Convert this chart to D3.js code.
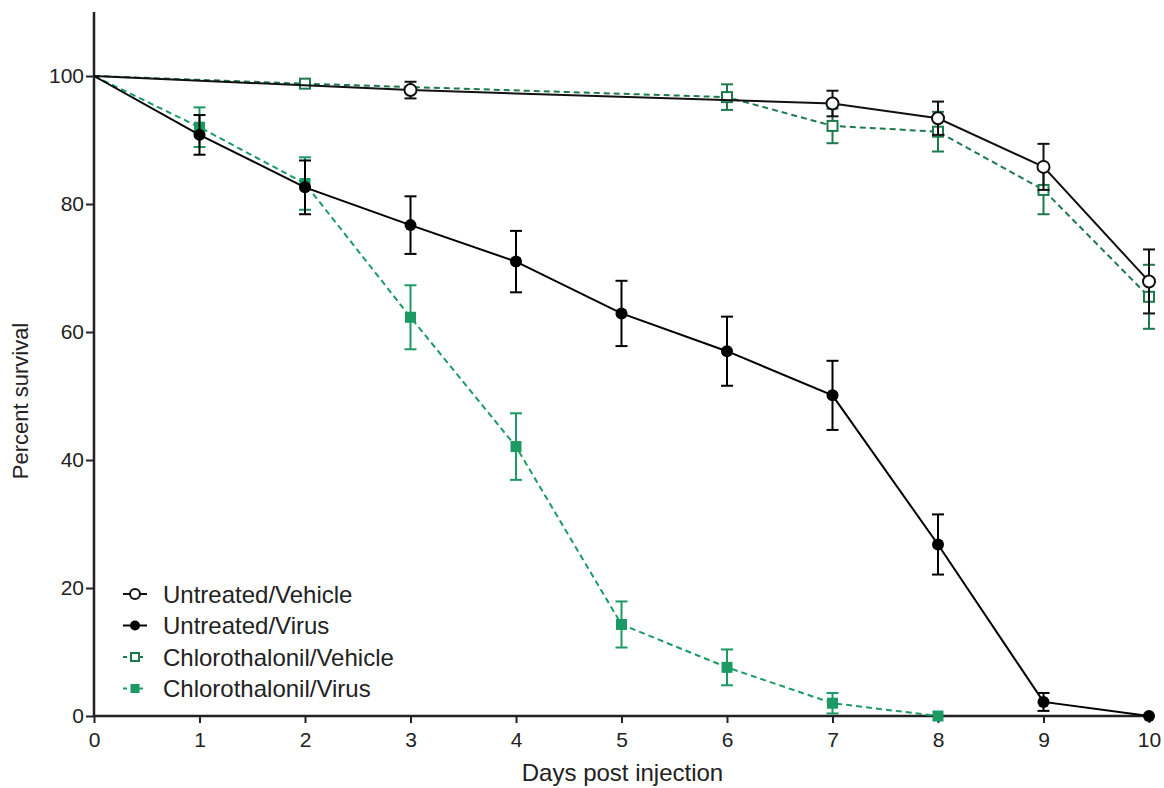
<!DOCTYPE html>
<html>
<head>
<meta charset="utf-8">
<script src="https://cdn.jsdelivr.net/npm/d3@7"></script>
<style>
  body { margin: 0; background: #fff; }
  svg { display: block; font-family: "Liberation Sans", Arial, sans-serif; }
</style>
</head>
<body>
<div id="chart"></div>
<script>
// days post injection and percent survival (mean, sem) per group
const untreatedVehicleDays = [0, 3, 7, 8, 9, 10];
const untreatedVehicleMean = [100, 97.8, 95.7, 93.4, 85.8, 67.9];
const untreatedVehicleSem = [0, 1.3, 2.0, 2.6, 3.6, 5.0];

const untreatedVirusDays = [0, 1, 2, 3, 4, 5, 6, 7, 8, 9, 10];
const untreatedVirusMean = [100, 90.8, 82.6, 76.7, 71.0, 62.9, 57.0, 50.1, 26.8, 2.2, 0];
const untreatedVirusSem = [0, 3.1, 4.2, 4.5, 4.8, 5.1, 5.4, 5.4, 4.7, 1.4, 0];

const chloroVehicleDays = [0, 2, 6, 7, 8, 9, 10];
const chloroVehicleMean = [100, 98.8, 96.7, 92.2, 91.3, 82.2, 65.5];
const chloroVehicleSem = [0, 0.5, 2.0, 2.7, 3.1, 3.8, 5.0];

const chloroVirusDays = [0, 1, 2, 3, 4, 5, 6, 7, 8];
const chloroVirusMean = [100, 92.0, 83.2, 62.3, 42.1, 14.3, 7.6, 2.0, 0];
const chloroVirusSem = [0, 3.1, 4.1, 5.0, 5.2, 3.6, 2.8, 1.6, 0];

const xTicks = [0, 1, 2, 3, 4, 5, 6, 7, 8, 9, 10];
const yTicks = [0, 20, 40, 60, 80, 100];

const groups = [
  { name: "Untreated/Vehicle", days: untreatedVehicleDays, mean: untreatedVehicleMean, sem: untreatedVehicleSem, color: "#111", shape: "circle", filled: false, dashed: false },
  { name: "Untreated/Virus", days: untreatedVirusDays, mean: untreatedVirusMean, sem: untreatedVirusSem, color: "#000", shape: "circle", filled: true, dashed: false },
  { name: "Chlorothalonil/Vehicle", days: chloroVehicleDays, mean: chloroVehicleMean, sem: chloroVehicleSem, color: "#1e7a4c", shape: "square", filled: false, dashed: true },
  { name: "Chlorothalonil/Virus", days: chloroVirusDays, mean: chloroVirusMean, sem: chloroVirusSem, color: "#1b9b63", shape: "square", filled: true, dashed: true }
];

const width = 1164;
const height = 788;
const margin = { top: 12, right: 15, bottom: 72, left: 94 };

const x = d3.scaleLinear().domain([0, 10]).range([margin.left, width - margin.right]);
const y = d3.scaleLinear().domain([0, 110]).range([height - margin.bottom, margin.top]);

const svg = d3.select("#chart").append("svg")
  .attr("width", width)
  .attr("height", height);

// axes
const xAxis = svg.append("g")
  .attr("transform", `translate(0, ${y(0)})`)
  .call(d3.axisBottom(x).tickValues(xTicks).tickSize(7).tickPadding(9).tickFormat(d3.format("d")));
const yAxis = svg.append("g")
  .attr("transform", `translate(${margin.left}, 0)`)
  .call(d3.axisLeft(y).tickValues(yTicks).tickSize(8).tickPadding(2).tickSizeOuter(0));

[xAxis, yAxis].forEach((g) => {
  g.select(".domain").attr("stroke", "#222").attr("stroke-width", 2.5);
  g.selectAll(".tick line").attr("stroke", "#222").attr("stroke-width", 2);
  g.selectAll("text").attr("font-size", 21).attr("fill", "#222").attr("font-family", "Liberation Sans, Arial, sans-serif");
});
xAxis.select(".domain").attr("d", `M${x(0)},0H${x(10)}`);
yAxis.select(".domain").attr("d", `M0,${y(0)}V${margin.top}`);
xAxis.selectAll(".tick line").attr("y1", -1);

svg.append("text")
  .attr("x", (x(0) + x(10)) / 2 + 1)
  .attr("y", 781)
  .attr("text-anchor", "middle")
  .attr("font-size", 24)
  .attr("fill", "#222")
  .text("Days post injection");

svg.append("text")
  .attr("transform", `translate(28, ${y(50) + 5}) rotate(-90)`)
  .attr("text-anchor", "middle")
  .attr("font-size", 22)
  .attr("fill", "#222")
  .text("Percent survival");

const line = d3.line().x((d) => x(d.day)).y((d) => y(d.value));

function drawMarker(sel, g, size) {
  if (g.shape === "circle") {
    sel.append("circle")
      .attr("r", size / 2)
      .attr("fill", g.filled ? g.color : "#fff")
      .attr("stroke", g.color)
      .attr("stroke-width", g.filled ? 0 : 2);
  } else {
    const s = g.filled ? size - 1 : size - 2;
    sel.append("rect")
      .attr("x", -s / 2).attr("y", -s / 2)
      .attr("width", s).attr("height", s)
      .attr("fill", g.filled ? g.color : "#fff")
      .attr("stroke", g.color)
      .attr("stroke-width", g.filled ? 0 : 2);
  }
}

// draw groups in back-to-front order
const drawOrder = [groups[2], groups[3], groups[1], groups[0]];

drawOrder.forEach((g) => {
  const pts = g.days.map((d, i) => ({ day: d, value: g.mean[i], sem: g.sem[i] }));
  const layer = svg.append("g");

  layer.append("path")
    .datum(pts)
    .attr("d", line)
    .attr("fill", "none")
    .attr("stroke", g.color)
    .attr("stroke-width", 2)
    .attr("stroke-dasharray", g.dashed ? "6,4" : null);

  const bars = layer.selectAll(".err")
    .data(pts.filter((p) => p.sem > 0))
    .join("g")
    .attr("class", "err")
    .attr("stroke", g.color)
    .attr("stroke-width", 2);
  bars.append("line")
    .attr("x1", (d) => x(d.day)).attr("x2", (d) => x(d.day))
    .attr("y1", (d) => y(d.value + d.sem)).attr("y2", (d) => y(d.value - d.sem));
  bars.append("line")
    .attr("x1", (d) => x(d.day) - 6).attr("x2", (d) => x(d.day) + 6)
    .attr("y1", (d) => y(d.value + d.sem)).attr("y2", (d) => y(d.value + d.sem));
  bars.append("line")
    .attr("x1", (d) => x(d.day) - 6).attr("x2", (d) => x(d.day) + 6)
    .attr("y1", (d) => y(d.value - d.sem)).attr("y2", (d) => y(d.value - d.sem));

  layer.selectAll(".mark")
    .data(pts.filter((p) => p.day > 0))
    .join("g")
    .attr("class", "mark")
    .attr("transform", (d) => `translate(${x(d.day)}, ${y(d.value)})`)
    .each(function () { drawMarker(d3.select(this), g, 12); });
});

// legend
const legend = svg.append("g").attr("transform", "translate(123, 594)");
groups.forEach((g, i) => {
  const row = legend.append("g").attr("transform", `translate(0, ${i * 31.5})`);
  row.append("line")
    .attr("x1", 0).attr("x2", 24)
    .attr("stroke", g.color).attr("stroke-width", 2)
    .attr("stroke-dasharray", g.dashed ? "4,4" : null);
  const m = row.append("g").attr("transform", "translate(12, 0)");
  drawMarker(m, g, 10);
  row.append("text")
    .attr("x", 40)
    .attr("y", 8.5)
    .attr("font-size", 24)
    .attr("fill", "#222")
    .text(g.name);
});
</script>
</body>
</html>
